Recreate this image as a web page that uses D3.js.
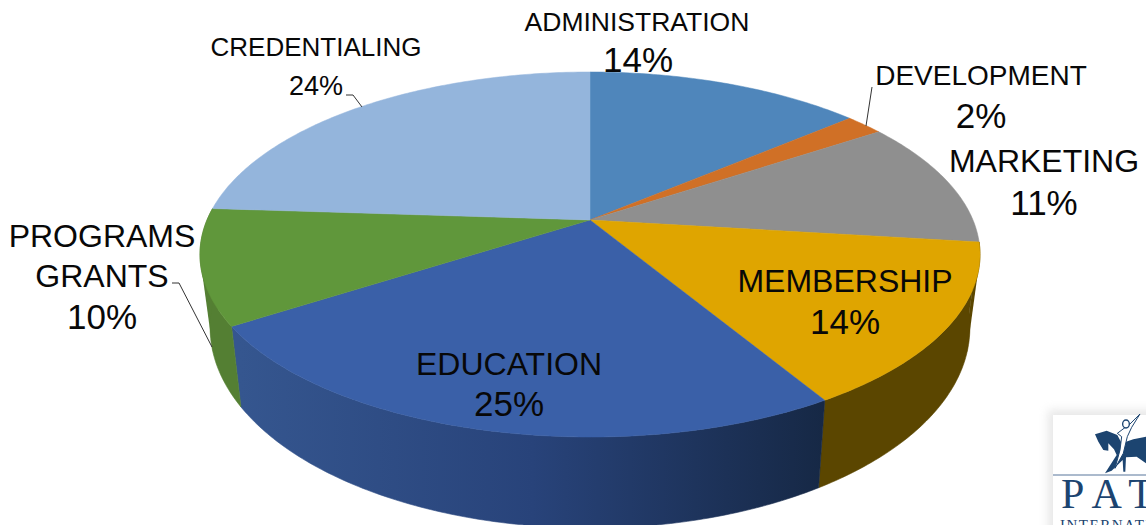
<!DOCTYPE html>
<html><head><meta charset="utf-8">
<script src="https://cdn.jsdelivr.net/npm/d3@7"></script>
<style>html,body{margin:0;padding:0;background:#fff;overflow:hidden}svg{display:block}text{font-family:"Liberation Sans",Arial,sans-serif;fill:#080808}</style>
</head><body><svg id="c" width="1146" height="525"></svg>
<script>
const categories=["ADMINISTRATION","DEVELOPMENT","MARKETING","MEMBERSHIP","EDUCATION","PROGRAMS GRANTS","CREDENTIALING"];
const shares=[13.8,1.9,11.3,14.5,24.5,10.2,24.0];
const percentLabels=["14%","2%","11%","14%","25%","10%","24%"];
const topColors=["#4f86bb","#d07026","#8f8f8f","#dfa500","#3a60a8","#60973b","#94b5dc"];
const sideColors=["#3b658d","#9c541c","#6b6b6b","#5b4600","url(#eduSide)","#547f33","#6f88a5"];
const labelLayout=[
 {lines:[["ADMINISTRATION",637,31,26.5],["14%",638,72,35]]},
 {lines:[["DEVELOPMENT",981,85,28],["2%",981,128,35]]},
 {lines:[["MARKETING",1044,172,32],["11%",1044,215,35]]},
 {lines:[["MEMBERSHIP",845,292,32],["14%",845,334,35]]},
 {lines:[["EDUCATION",509,375,32],["25%",509,416,35]]},
 {lines:[["PROGRAMS",102,247,32],["GRANTS",102,287,32],["10%",102,329,35]]},
 {lines:[["CREDENTIALING",316,56,26],["24%",316,95,27]]}
];
const leaders=[[[872,87],[866,126]],[[172,283],[179,283],[212,347]],[[346,95],[353,95],[362,107]]];

const svg=d3.select("#c");
const defs=svg.append("defs");
const g=defs.append("linearGradient").attr("id","eduSide").attr("gradientUnits","userSpaceOnUse").attr("x1",240).attr("x2",825).attr("y1",0).attr("y2",0);
g.append("stop").attr("offset",0).attr("stop-color","#35568f");
g.append("stop").attr("offset",.5).attr("stop-color","#28437a");
g.append("stop").attr("offset",1).attr("stop-color","#162845");
const blurF=defs.append("filter").attr("id","shadow").attr("x","-20%").attr("y","-20%").attr("width","140%").attr("height","140%");
blurF.append("feGaussianBlur").attr("stdDeviation",5);

const cx=590,k=0.189;
const ring=(cy,A,B)=>t=>{const u=Math.sin(t),v=-Math.cos(t),w=1-k*v;return [cx+A*u/w,cy+B*v/w];};
const proj=ring(220,383,176), projLow=ring(290.2,373,192.9);
const arcs=d3.pie().sort(null).value(d=>d)(shares);
const lineGen=d3.line();
const samples=(a,b)=>{const n=Math.max(2,Math.ceil((b-a)*80));return d3.range(n+1).map(i=>a+(b-a)*i/n);};
const lo=arcs[3].startAngle,hi=arcs[5].endAngle;
const tanTop=Math.acos(-0.202),tanLow=Math.acos(-0.307),TAU=2*Math.PI;

const rim=svg.append("g");
// the straight silhouette edges joining the two rings at far right and far left
rim.append("path").attr("d",lineGen([proj(lo),proj(tanTop),projLow(tanLow),projLow(lo)])+"Z").attr("fill",sideColors[3]);
rim.append("path").attr("d",lineGen([proj(hi),proj(TAU-tanTop),projLow(TAU-tanLow),projLow(hi)])+"Z").attr("fill",sideColors[5]);
arcs.forEach((d,i)=>{
  const a=Math.max(d.startAngle,lo),b=Math.min(d.endAngle,hi);
  if(b<=a)return;
  const ts=samples(a,b);
  const pts=ts.map(proj).concat(ts.slice().reverse().map(projLow));
  rim.append("path").attr("d",lineGen(pts)+"Z").attr("fill",sideColors[i]).attr("stroke",sideColors[i]).attr("stroke-width",.6);
});
const topFace=svg.append("g");
arcs.forEach((d,i)=>{
  const pts=[[cx,220]].concat(samples(d.startAngle,d.endAngle).map(proj));
  topFace.append("path").attr("d",lineGen(pts)+"Z").attr("fill",topColors[i]).attr("stroke",topColors[i]).attr("stroke-width",.5);
});
svg.append("g").selectAll("path").data(leaders).join("path").attr("d",d=>lineGen(d)).attr("fill","none").attr("stroke","#333").attr("stroke-width",1);
const lab=svg.append("g").attr("text-anchor","middle");
labelLayout.forEach(l=>l.lines.forEach(([s,x,y,f])=>lab.append("text").attr("x",x).attr("y",y).attr("font-size",f).text(s)));
// logo, with the outline written in the zoomed crop's units (3x, origin 1040,400)
const logo=svg.append("g");
logo.append("rect").attr("x",1048).attr("y",410).attr("width",110).attr("height",130).attr("fill","#bbb").attr("opacity",.35).attr("filter","url(#shadow)");
logo.append("rect").attr("x",1053).attr("y",415).attr("width",100).attr("height",115).attr("fill","#fff");
const horse=logo.append("g").attr("transform","translate(1040,400) scale(0.3333)");
horse.append("path").attr("fill","#1c4470").attr("d","M165,103 L200,92 L232,105 L245,130 L280,118 L318,110 L318,190 L290,170 L258,172 L256,215 L250,215 L248,180 L215,212 L195,220 L230,165 L222,148 L205,130 L205,152 L190,150 L175,125 Z");
horse.append("path").attr("fill","#fff").attr("stroke","#1c4470").attr("stroke-width",3).attr("d","M300,42 L275,82 L262,110 L250,160 L225,205 L240,150 L245,110 L232,100 L252,85 L270,72 Z");
horse.append("ellipse").attr("cx",258).attr("cy",72).attr("rx",10).attr("ry",12).attr("fill","#fff").attr("stroke","#1c4470").attr("stroke-width",4);
logo.append("line").attr("x1",1053).attr("x2",1146).attr("y1",475).attr("y2",475).attr("stroke","#8fa3bd").attr("stroke-width",1.5);
logo.append("text").attr("x",1061).attr("y",508).attr("font-size",42).attr("letter-spacing",11).style("font-family","'Liberation Serif',serif").style("fill","#1c4470").text("PATH");
logo.append("text").attr("x",1060).attr("y",530).attr("font-size",15).attr("letter-spacing",1.5).style("font-family","'Liberation Serif',serif").style("fill","#1c4470").text("INTERNATIONAL");
</script></body></html>
